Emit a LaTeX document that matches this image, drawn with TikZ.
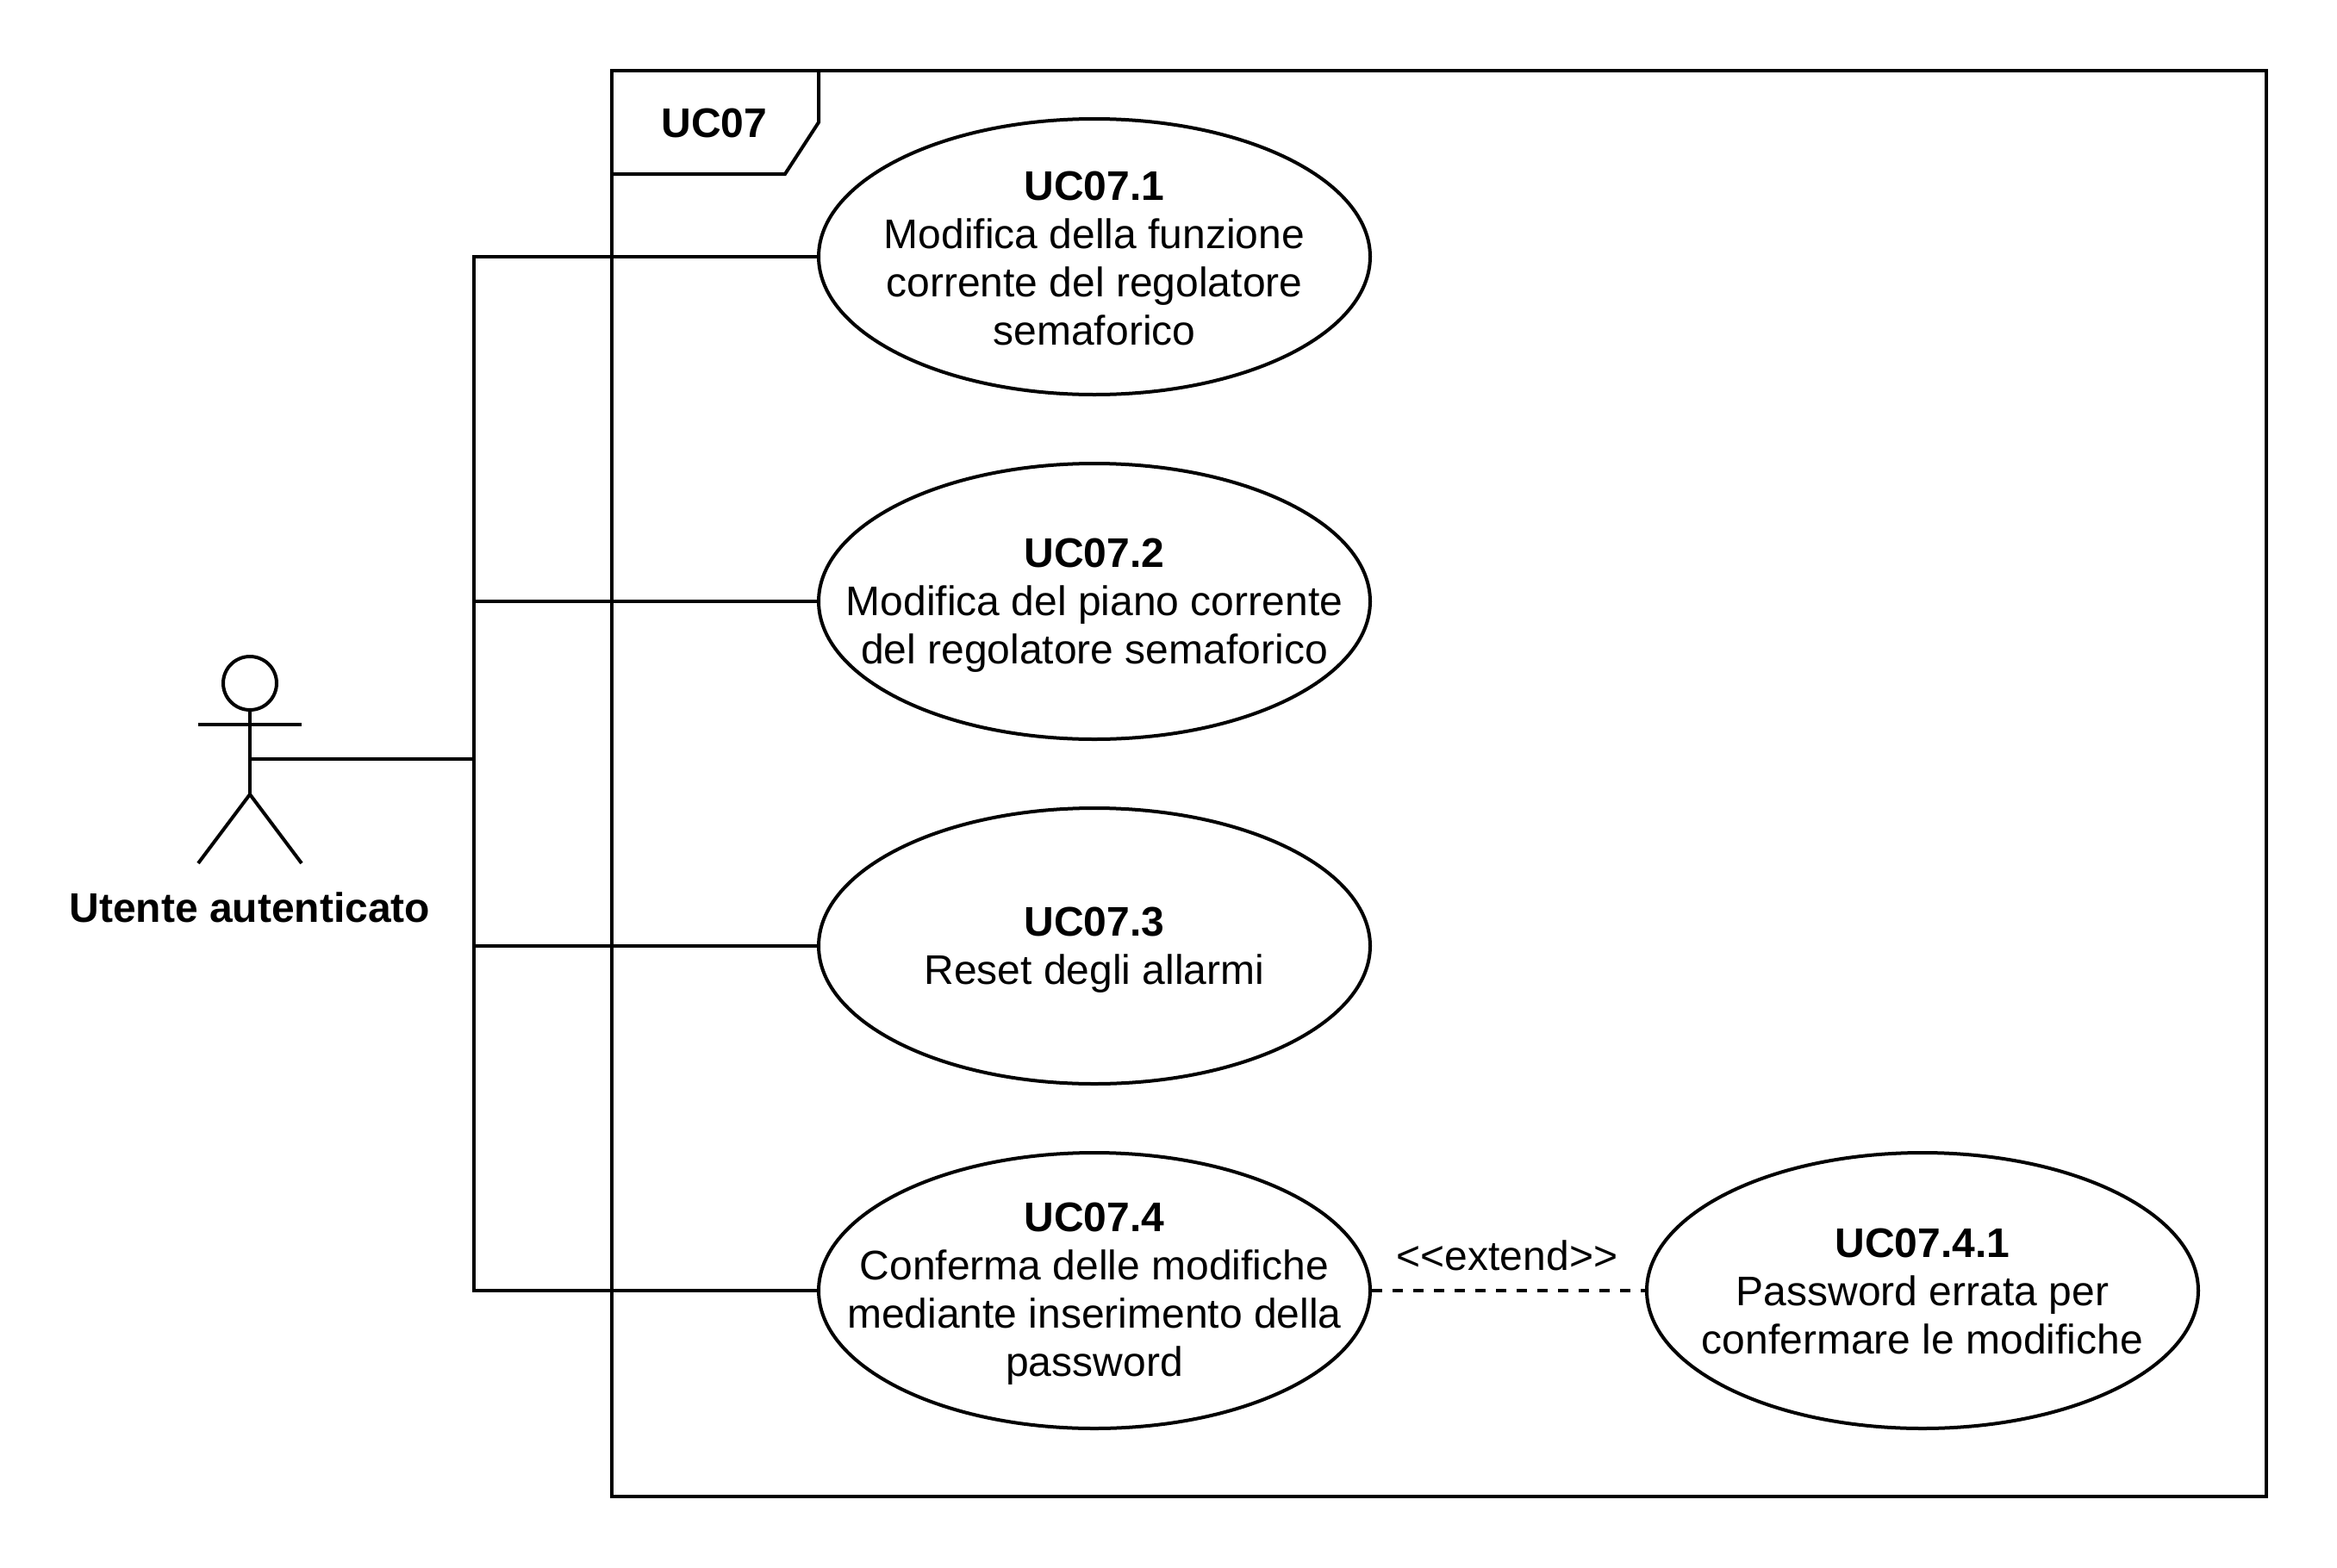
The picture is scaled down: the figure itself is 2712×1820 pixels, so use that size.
\documentclass[tikz,border=0pt]{standalone}
\usepackage{fontspec}
\setmainfont{Liberation Sans}
\usepackage{xcolor}
\definecolor{ColBlack}{RGB}{0,0,0}
\usetikzlibrary{shapes.geometric}
\tikzstyle{Line}=[ColBlack!100,draw,line width=4pt]
\tikzstyle{Label}=[inner sep=0pt,align=center,text=ColBlack,
    font=\fontsize{48}{56}\selectfont]
\tikzstyle{UseCase}=[Line,ellipse,inner sep=0pt,minimum width=640pt,
    minimum height=320pt]
\tikzstyle{Head}=[Line,circle,inner sep=0pt,minimum size=62pt]
\tikzstyle{Extend}=[Line,dash pattern=on 12pt off 12pt]

\begin{document}
\begin{tikzpicture}[x=1pt,y=-1pt]
        \useasboundingbox(0,0)rectangle(2712,1820);
        % system frame
        \node(Frame)at(1670,909)[Line,rectangle,inner sep=0pt,
            minimum width=1920pt,minimum height=1655pt]{};
        \coordinate(TabTop)at(950,82);
        \coordinate(TabCut)at(950,142);
        \coordinate(TabFoot)at(911,202);
        \coordinate(TabLeft)at(710,202);
        \draw[Line](TabTop)--(TabCut)--(TabFoot)--(TabLeft);
        \node(FrameName)at(829,143)[Label]{\textbf{UC07}};
        % actor
        \node(ActorHead)at(290,793)[Head]{};
        \coordinate(ArmLeft)at(230,841);
        \coordinate(ArmRight)at(350,841);
        \coordinate(Hip)at(290,881);
        \coordinate(Crotch)at(290,922);
        \coordinate(LegLeft)at(230,1002);
        \coordinate(LegRight)at(350,1002);
        \draw[Line](ActorHead.south)--(Crotch);
        \draw[Line](ArmLeft)--(ArmRight);
        \draw[Line](LegLeft)--(Crotch)--(LegRight);
        \node(Actor)at(290,1053)[Label]{\textbf{Utente autenticato}};
        % use cases
        \node(UC1)at(1270,298)[UseCase]{};
        \node(UC2)at(1270,698)[UseCase]{};
        \node(UC3)at(1270,1098)[UseCase]{};
        \node(UC4)at(1270,1498)[UseCase]{};
        \node(UC41)at(2231,1498)[UseCase]{};
        \node(UC1Text)at(1270,300)[Label]{\textbf{UC07.1}\\Modifica della funzione\\
            corrente del regolatore\\semaforico};
        \node(UC2Text)at(1270,703)[Label]{\textbf{UC07.2}\\Modifica del piano corrente\\
            del regolatore semaforico};
        \node(UC3Text)at(1270,1103)[Label]{\textbf{UC07.3}\\Reset degli allarmi};
        \node(UC4Text)at(1270,1502)[Label]{\textbf{UC07.4}\\Conferma delle modifiche\\
            mediante inserimento della\\password};
        \node(UC41Text)at(2231,1499)[Label]{\textbf{UC07.4.1}\\Password errata per\\
            confermare le modifiche};
        % connectors
        \coordinate(Bus)at(550,881);
        \draw[Line](Hip)--(Bus);
        \draw[Line](Bus)|-(UC1.west);
        \draw[Line](Bus)|-(UC2.west);
        \draw[Line](Bus)|-(UC3.west);
        \draw[Line](Bus)|-(UC4.west);
        \draw[Extend](UC4.east)--(UC41.west);
        \node(ExtendText)at(1749,1457)[Label]{{<}{<}extend{>}{>}};
    \end{tikzpicture}
\end{document}
